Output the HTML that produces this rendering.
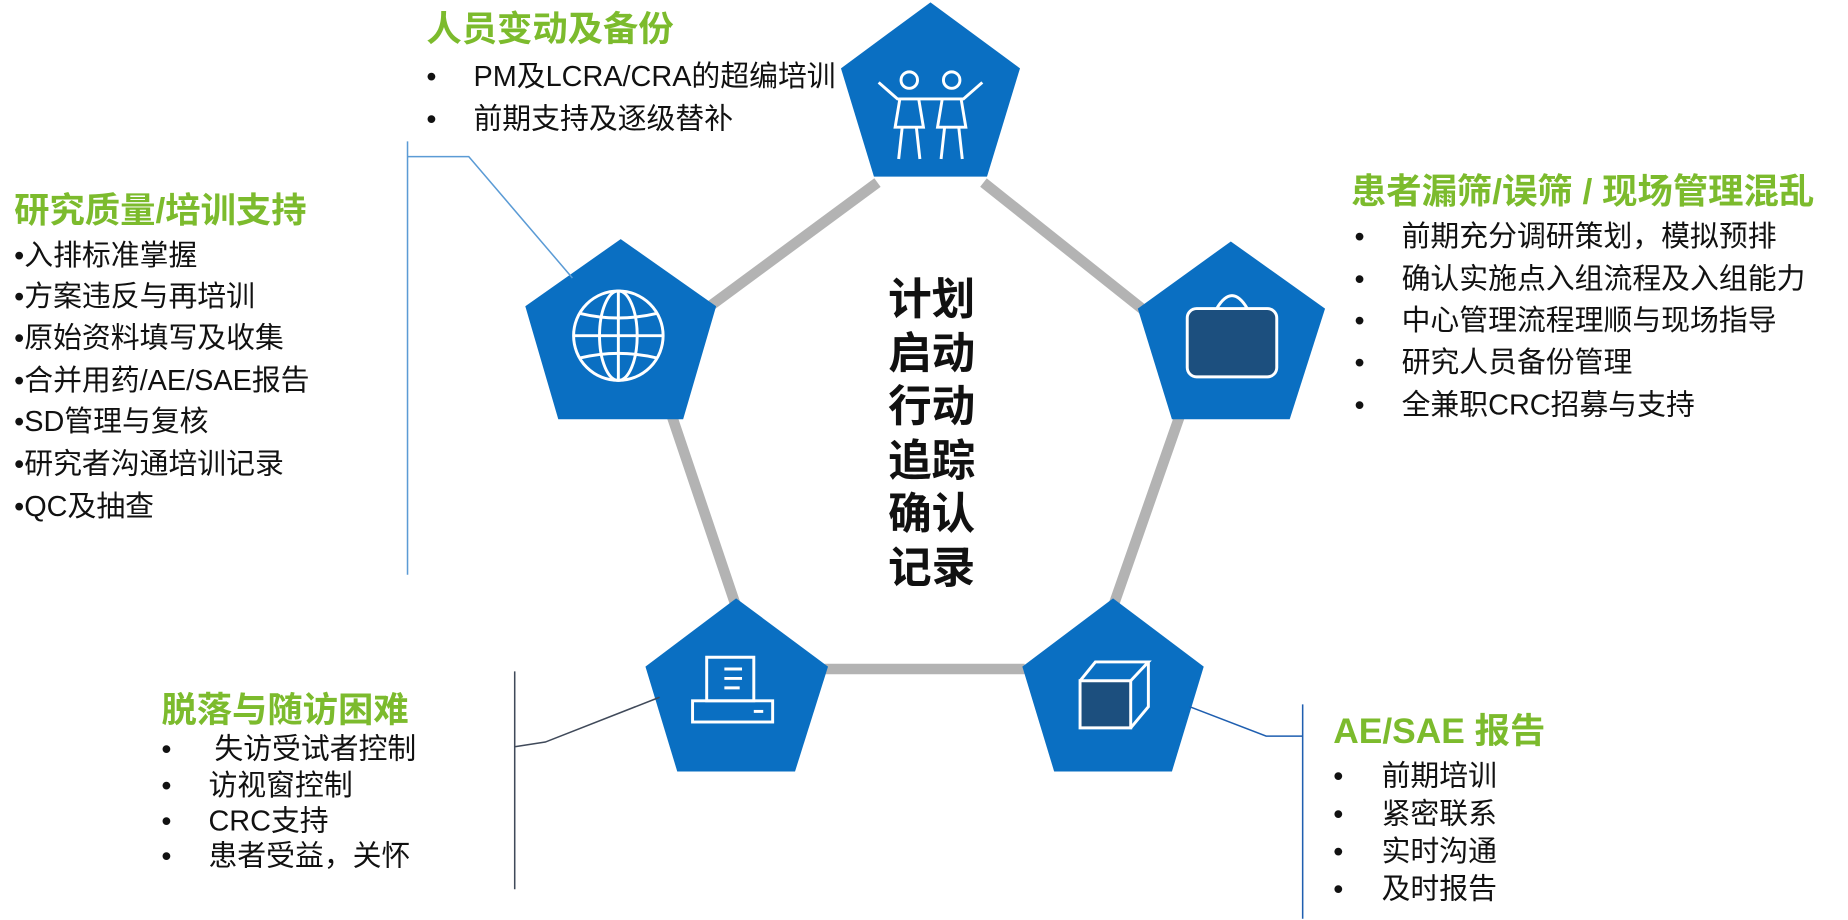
<!DOCTYPE html>
<html><head><meta charset="utf-8"><style>
html,body{margin:0;padding:0;background:#fff;}
svg{display:block;}
text{font-family:"Liberation Sans","Noto Sans CJK SC",sans-serif;}
.g{fill:#7cbb2d;font-weight:bold;font-size:30px;}
.b{fill:#111;font-size:24.5px;}
.c{fill:#111;font-weight:bold;font-size:37px;}
</style></head><body>
<svg width="1848" height="920" viewBox="0 0 1569 781" preserveAspectRatio="xMinYMin meet" xmlns="http://www.w3.org/2000/svg">
<g stroke="#b3b3b3" stroke-width="9" fill="none">
<line x1="600" y1="262" x2="745" y2="155"/>
<line x1="835" y1="155" x2="972" y2="264"/>
<line x1="570" y1="352" x2="625" y2="515"/>
<line x1="1002" y1="352" x2="945" y2="515"/>
<line x1="700" y1="568" x2="870" y2="568"/>
</g>
<g fill="#0a6fc2">
<polygon points="790,2 866,58 838,150 742,150 714,58"/>
<polygon points="527,203 608,260 580,356 474,356 446,260"/>
<polygon points="1045,205 1125,262 1095,356 995,356 966,262"/>
<polygon points="625,508 703,566 675,655 575,655 548,566"/>
<polygon points="945,508 1022,566 995,655 895,655 868,566"/>
</g>
<g stroke="#fff" stroke-width="2.5" fill="none">
<circle cx="772" cy="68" r="7"/><circle cx="808" cy="68" r="7"/>
<path d="M746,70 L762,84 L782,84 L798,84 L818,84 L834,70"/>
<path d="M764,84 L760,108 L784,108 L780,84"/>
<path d="M800,84 L796,108 L820,108 L816,84"/>
<path d="M766,108 L763,135 M778,108 L781,135 M802,108 L799,135 M814,108 L817,135"/>
<circle cx="525" cy="285" r="38"/>
<ellipse cx="525" cy="285" rx="16" ry="38"/>
<line x1="525" y1="247" x2="525" y2="323"/>
<line x1="487" y1="285" x2="563" y2="285"/>
<path d="M492,266 Q525,274 558,266 M492,304 Q525,296 558,304"/>
<rect x="1008" y="262" width="76" height="58" rx="8" fill="#1c4f7e"/>
<path d="M1033,262 Q1046,240 1059,262"/>
<path d="M600,558 L640,558 L640,595 L600,595 Z"/>
<path d="M615,568 L630,568 M615,576 L630,576 M615,584 L628,584"/>
<rect x="588" y="595" width="68" height="18"/>
<line x1="640" y1="604" x2="648" y2="604"/>
<path d="M917,578 L960,578 L960,618 L917,618 Z" fill="#1c4f7e"/>
<path d="M917,578 L930,562 L975,562 L960,578 M975,562 L975,600 L960,618"/>
</g>
<g fill="none" stroke-width="1.3">
<path d="M346,120 L346,488 M346,133 L398,133 L486,236" stroke="#5b9bd5"/>
<path d="M437,570 L437,755 M437,634 L463,630 L560,592" stroke="#404a5a"/>
<path d="M1106,598 L1106,780 M1010,600 L1075,625 L1106,625" stroke="#1f5fb0"/>
</g>
<g class="c" text-anchor="middle">
<text x="791" y="267">计划</text><text x="791" y="313">启动</text>
<text x="791" y="358">行动</text><text x="791" y="404">追踪</text>
<text x="791" y="449">确认</text><text x="791" y="495">记录</text>
</g>
<text class="g" x="362" y="35">人员变动及备份</text>
<text class="b" x="362" y="73">•</text><text class="b" x="402" y="73">PM及LCRA/CRA的超编培训</text>
<text class="b" x="362" y="109">•</text><text class="b" x="402" y="109">前期支持及逐级替补</text>
<text class="g" x="12" y="189">研究质量/培训支持</text>
<g class="b">
<text x="12" y="225">•入排标准掌握</text>
<text x="12" y="260">•方案违反与再培训</text>
<text x="12" y="295">•原始资料填写及收集</text>
<text x="12" y="331">•合并用药/AE/SAE报告</text>
<text x="12" y="366">•SD管理与复核</text>
<text x="12" y="402">•研究者沟通培训记录</text>
<text x="12" y="438">•QC及抽查</text>
</g>
<text class="g" x="1147" y="173">患者漏筛/误筛 / 现场管理混乱</text>
<g class="b">
<text x="1150" y="209">•</text><text x="1190" y="209">前期充分调研策划，模拟预排</text>
<text x="1150" y="245">•</text><text x="1190" y="245">确认实施点入组流程及入组能力</text>
<text x="1150" y="280">•</text><text x="1190" y="280">中心管理流程理顺与现场指导</text>
<text x="1150" y="316">•</text><text x="1190" y="316">研究人员备份管理</text>
<text x="1150" y="352">•</text><text x="1190" y="352">全兼职CRC招募与支持</text>
</g>
<text class="g" x="137" y="613">脱落与随访困难</text>
<g class="b">
<text x="137" y="644">•</text><text x="182" y="644">失访受试者控制</text>
<text x="137" y="675">•</text><text x="177" y="675">访视窗控制</text>
<text x="137" y="705">•</text><text x="177" y="705">CRC支持</text>
<text x="137" y="735">•</text><text x="177" y="735">患者受益，关怀</text>
</g>
<text class="g" x="1132" y="631">AE/SAE 报告</text>
<g class="b">
<text x="1132" y="667">•</text><text x="1173" y="667">前期培训</text>
<text x="1132" y="699">•</text><text x="1173" y="699">紧密联系</text>
<text x="1132" y="731">•</text><text x="1173" y="731">实时沟通</text>
<text x="1132" y="763">•</text><text x="1173" y="763">及时报告</text>
</g>
</svg>
</body></html>
